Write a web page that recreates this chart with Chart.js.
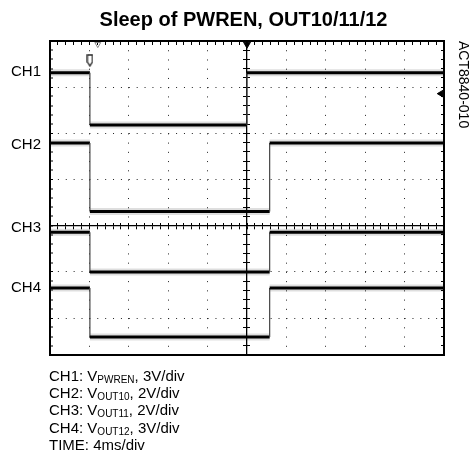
<!DOCTYPE html>
<html>
<head>
<meta charset="utf-8">
<script src="https://cdn.jsdelivr.net/npm/chart.js@4/dist/chart.umd.min.js"></script>
<style>
html,body{margin:0;padding:0;background:#fff;}
#wrap{position:relative;width:471px;height:455px;overflow:hidden;background:#fff;}
#c{position:absolute;left:0;top:0;}
#notes{position:absolute;left:49px;top:366.6px;font-family:"Liberation Sans",Arial,sans-serif;font-size:15px;line-height:17.4px;color:#000;white-space:nowrap;}
#notes sub{font-size:10px;line-height:0;vertical-align:-1.5px;}
</style>
</head>
<body>
<div id="wrap">
<canvas id="c" width="471" height="455"></canvas>
<div id="notes">
<div>CH1: V<sub>PWREN</sub>, 3V/div</div>
<div>CH2: V<sub>OUT10</sub>, 2V/div</div>
<div>CH3: V<sub>OUT11</sub>, 2V/div</div>
<div>CH4: V<sub>OUT12</sub>, 3V/div</div>
<div>TIME: 4ms/div</div>
</div>
</div>
<script>
const FONT = '"Liberation Sans", Arial, sans-serif';
const chartTitle = 'Sleep of PWREN, OUT10/11/12';
const sideNote = 'ACT8840-010';

// time axis in ms (4 ms/div, 10 div); vertical unit = screen divisions from centre line
const timeRange = [0, 40];
const divRange = [-2.8, 4];

const channelNames = ['CH1', 'CH2', 'CH3', 'CH4'];
const channelLabelAt = [3.33, 1.75, -0.05, -1.35];

// edge times (ms) and levels (div) of each step trace
const ch1Edges = [4.05, 20.0];
const ch1Levels = [3.31, 2.18, 3.31];
const ch2Edges = [4.05, 22.3];
const ch2Levels = [1.79, 0.31, 1.79];
const ch3Edges = [4.05, 22.3];
const ch3Levels = [-0.14, -1.0, -0.14];
const ch4Edges = [4.05, 22.3];
const ch4Levels = [-1.35, -2.41, -1.35];

// scope markers: trigger point, trigger position, trigger marker, CH1 level marker
const markerTimes = [20.0, 4.85, 4.05, 39.7];
const markerLevels = [3.93, 3.93, 3.58, 2.86];

function stepTrace(edges, levels) {
  const pts = [{x: timeRange[0], y: levels[0]}];
  edges.forEach((t, i) => { pts.push({x: t, y: levels[i]}, {x: t, y: levels[i + 1]}); });
  pts.push({x: timeRange[1], y: levels[levels.length - 1]});
  return pts;
}

function trigMarker() {
  const c = document.createElement('canvas');
  c.width = 7; c.height = 13;
  const g = c.getContext('2d');
  g.strokeStyle = '#222'; g.lineWidth = 1.3; g.fillStyle = '#fff';
  g.beginPath();
  g.moveTo(1, 1); g.lineTo(6, 1); g.lineTo(6, 8); g.lineTo(3.5, 12); g.lineTo(1, 8); g.closePath();
  g.fill(); g.stroke();
  return c;
}

const isInt = v => Math.abs(v - Math.round(v)) < 1e-6;
const traces = [[ch1Edges, ch1Levels], [ch2Edges, ch2Levels], [ch3Edges, ch3Levels], [ch4Edges, ch4Levels]];

const datasets = [];
datasets.push({
  label: 'markers',
  data: markerTimes.map((t, i) => ({x: t, y: markerLevels[i]})),
  showLine: false,
  pointStyle: ['triangle', 'triangle', trigMarker(), 'triangle'],
  rotation: [180, 180, 0, 270],
  pointRadius: [4, 3.4, 6, 3.8],
  pointBackgroundColor: ['#000', 'rgba(0,0,0,0)', '#fff', '#000'],
  pointBorderColor: ['#000', '#888', '#222', '#000'],
  pointBorderWidth: 1,
  clip: false,
  xAxisID: 'x', yAxisID: 'y'
});
traces.forEach(([e, l], k) => {
  datasets.push({
    label: channelNames[k],
    data: stepTrace(e, l),
    pointRadius: 0,
    borderColor: '#000',
    segment: {
      borderWidth: c => c.p0.parsed.x === c.p1.parsed.x ? 1.2 : 3,
      borderColor: c => c.p0.parsed.x === c.p1.parsed.x ? '#444' : '#000'
    },
    xAxisID: 'x', yAxisID: 'y'
  });
});
traces.forEach(([e, l], k) => {
  datasets.push({
    label: channelNames[k] + ' envelope',
    data: stepTrace(e, l),
    pointRadius: 0,
    borderWidth: 7,
    segment: {
      borderColor: c => c.p0.parsed.x === c.p1.parsed.x ? 'rgba(0,0,0,0)' : 'rgba(0,0,0,0.13)'
    },
    xAxisID: 'x', yAxisID: 'y'
  });
});

const minorTicks = {display: false, autoSkip: false};

new Chart(document.getElementById('c'), {
  type: 'line',
  data: {datasets},
  options: {
    responsive: false,
    animation: false,
    events: [],
    devicePixelRatio: 1,
    layout: {padding: {left: 16, right: 0, top: 0, bottom: 0}},
    plugins: {
      legend: {display: false},
      tooltip: {enabled: false},
      title: {
        display: true, text: chartTitle, color: '#000',
        font: {family: FONT, size: 20, weight: 'bold', lineHeight: 1.2},
        padding: {top: 8, bottom: 4}
      }
    },
    scales: {
      x: {
        type: 'linear', position: 'bottom', min: timeRange[0], max: timeRange[1],
        ticks: {display: false, stepSize: 4, autoSkip: false},
        grid: {
          drawTicks: false, color: '#222',
          lineWidth: c => (c.tick && c.tick.value > 0 && c.tick.value < 40 && c.tick.value !== 20) ? 1 : 0
        },
        border: {display: true, color: '#000', width: 2, dash: [1, 8.236], dashOffset: 0},
        afterFit: s => { s.height = 100; }
      },
      y: {
        type: 'linear', position: 'left', weight: 0, min: divRange[0], max: divRange[1],
        ticks: {display: false, stepSize: 0.2, autoSkip: false},
        grid: {
          drawTicks: true, tickLength: -3, tickColor: '#000', tickWidth: 1, color: '#222',
          lineWidth: c => {
            if (!c.tick) return 0;
            const v = c.tick.value;
            return (isInt(v) && Math.abs(v) > 1e-6 && v > divRange[0] + 0.01 && v < divRange[1] - 0.01) ? 1 : 0;
          }
        },
        border: {display: true, color: '#000', width: 2, dash: [1, 6.88], dashOffset: 1},
        afterFit: s => { s.width = 0; }
      },
      ylab: {
        type: 'linear', position: 'left', weight: 10, min: divRange[0], max: divRange[1],
        afterBuildTicks: s => { s.ticks = channelLabelAt.map(v => ({value: v})); },
        ticks: {
          autoSkip: false, mirror: true, crossAlign: 'near', padding: -39, color: '#000',
          font: {family: FONT, size: 15},
          callback: (v, i) => channelNames[i]
        },
        grid: {display: false, drawTicks: false},
        border: {display: false},
        afterFit: s => { s.width = 34; }
      },
      xT: {
        type: 'linear', position: 'top', min: timeRange[0], max: timeRange[1],
        ticks: Object.assign({stepSize: 0.8}, minorTicks),
        grid: {drawOnChartArea: false, drawTicks: true, tickLength: -4, tickColor: '#000', tickWidth: 1},
        border: {display: true, color: '#000', width: 2},
        afterFit: s => { s.height = 5; }
      },
      yR: {
        type: 'linear', position: 'right', min: divRange[0], max: divRange[1],
        ticks: Object.assign({stepSize: 0.2}, minorTicks),
        grid: {drawOnChartArea: false, drawTicks: true, tickLength: -3, tickColor: '#000', tickWidth: 1},
        border: {display: true, color: '#000', width: 2},
        title: {
          display: true, text: sideNote, align: 'end', color: '#000',
          font: {family: FONT, size: 14, lineHeight: 1},
          padding: {top: 1, bottom: 0}
        },
        afterFit: s => { s.width = 27; }
      },
      xC: {
        type: 'linear', position: {y: 0}, min: timeRange[0], max: timeRange[1],
        ticks: Object.assign({stepSize: 0.8}, minorTicks),
        grid: {drawOnChartArea: false, drawTicks: true, tickLength: 3, tickColor: '#000', tickWidth: 1},
        border: {display: true, color: '#000', width: 1.3}
      },
      xC2: {
        type: 'linear', position: {y: 0}, min: timeRange[0], max: timeRange[1],
        ticks: Object.assign({stepSize: 0.8}, minorTicks),
        grid: {drawOnChartArea: false, drawTicks: true, tickLength: -3, tickColor: '#000', tickWidth: 1},
        border: {display: false}
      },
      yC: {
        type: 'linear', position: {x: 20}, min: divRange[0], max: divRange[1],
        ticks: Object.assign({stepSize: 0.2}, minorTicks),
        grid: {drawOnChartArea: false, drawTicks: true, tickLength: 3, tickColor: '#000', tickWidth: 1},
        border: {display: true, color: '#000', width: 1.3}
      },
      yC2: {
        type: 'linear', position: {x: 20}, min: divRange[0], max: divRange[1],
        ticks: Object.assign({stepSize: 0.2}, minorTicks),
        grid: {drawOnChartArea: false, drawTicks: true, tickLength: -3, tickColor: '#000', tickWidth: 1},
        border: {display: false}
      }
    }
  }
});
</script>
</body>
</html>
